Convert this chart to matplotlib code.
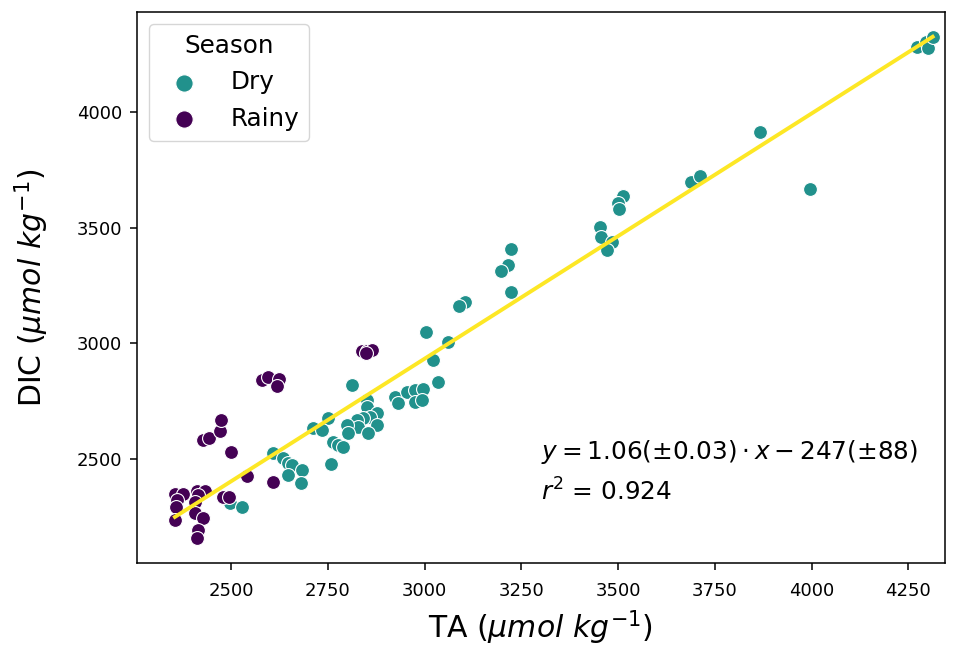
import numpy as np
import matplotlib
matplotlib.use('Agg')
import matplotlib.pyplot as plt

# TA / DIC (umol/kg) - estacao seca
ta_dry = [4272, 4297, 4300, 4313, 3866, 3995, 3688, 3711, 3512, 3499,
          3502, 3453, 3456, 3484, 3471, 3223, 3215, 3197, 3223, 3104,
          3089, 3004, 3060, 3022, 3035, 2812, 2924, 2931, 2955, 2975,
          2996, 2975, 2993, 2851, 2851, 2877, 2859, 2841, 2825, 2828,
          2800, 2877, 2802, 2854, 2751, 2712, 2735, 2763, 2776, 2789,
          2758, 2608, 2634, 2647, 2658, 2683, 2647, 2681, 2497, 2528]
dic_dry = [4281, 4303, 4277, 4324, 3914, 3667, 3697, 3723, 3637, 3607,
           3581, 3503, 3460, 3438, 3403, 3408, 3339, 3313, 3222, 3179,
           3161, 3049, 3006, 2928, 2833, 2820, 2768, 2742, 2790, 2798,
           2803, 2746, 2755, 2755, 2725, 2699, 2681, 2677, 2669, 2638,
           2647, 2647, 2612, 2612, 2677, 2634, 2625, 2573, 2560, 2552,
           2478, 2526, 2504, 2483, 2474, 2452, 2431, 2396, 2310, 2292]

# estacao chuvosa
ta_rainy = [2355, 2376, 2361, 2358, 2355, 2412, 2433, 2415, 2407, 2407,
            2428, 2415, 2412, 2479, 2495, 2541, 2500, 2428, 2443, 2472,
            2474, 2580, 2596, 2624, 2619, 2608, 2838, 2851, 2864, 2849]
dic_rainy = [2349, 2349, 2323, 2292, 2236, 2362, 2362, 2344, 2314, 2267,
             2245, 2193, 2158, 2336, 2336, 2426, 2530, 2582, 2591, 2621,
             2669, 2841, 2854, 2846, 2815, 2400, 2967, 2967, 2971, 2958]

# regressao (todos os pontos)
slope = 1.06
intercept = -247
slope_err = 0.03
intercept_err = 88
r2 = 0.924

cor_dry = '#21918c'
cor_rainy = '#440154'
cor_fit = '#fde725'

plt.rcParams['xtick.labelsize'] = 13
plt.rcParams['ytick.labelsize'] = 13
plt.rcParams['xtick.major.size'] = 5
plt.rcParams['ytick.major.size'] = 5
plt.rcParams['xtick.major.width'] = 1.1
plt.rcParams['ytick.major.width'] = 1.1
plt.rcParams['xtick.major.pad'] = 8.5
plt.rcParams['ytick.major.pad'] = 5.5
plt.rcParams['axes.linewidth'] = 1.1

fig, ax = plt.subplots(figsize=(9.6, 6.47), dpi=100)
fig.subplots_adjust(left=0.1427, right=0.984, top=0.9815, bottom=0.1298)

ax.scatter(ta_dry, dic_dry, s=100, color=cor_dry, edgecolor='white', linewidth=0.8, label='Dry', zorder=2)
ax.scatter(ta_rainy, dic_rainy, s=100, color=cor_rainy, edgecolor='white', linewidth=0.8, label='Rainy', zorder=2)

todos_ta = np.array(ta_dry + ta_rainy)
x_fit = np.array([todos_ta.min(), todos_ta.max()])
ax.plot(x_fit, slope * x_fit + intercept, color=cor_fit, linewidth=2.8, zorder=3)

ax.text(3300, 2500, r'$y = %.2f(\pm%.2f) \cdot x - %d(\pm%d)$' % (slope, slope_err, -intercept, intercept_err),
        fontsize=17.8)
ax.text(3300, 2320, r'$r^2$ = %.3f' % r2, fontsize=17.8)

ax.set_xlim(2257, 4344)
ax.set_ylim(2050, 4432)
ax.set_xticks([2500, 2750, 3000, 3250, 3500, 3750, 4000, 4250])
ax.set_yticks([2500, 3000, 3500, 4000])
ax.set_xlabel(r'TA ($\mu mol\ kg^{-1}$)', fontsize=21.5, labelpad=6.5)
ax.set_ylabel(r'DIC ($\mu mol\ kg^{-1}$)', fontsize=21.5, labelpad=19)

leg = ax.legend(title='Season', loc='upper left', fontsize=17.7, title_fontsize=17.7,
                markerscale=1.25, handletextpad=0.9)

fig.savefig('out.png', dpi=100)
